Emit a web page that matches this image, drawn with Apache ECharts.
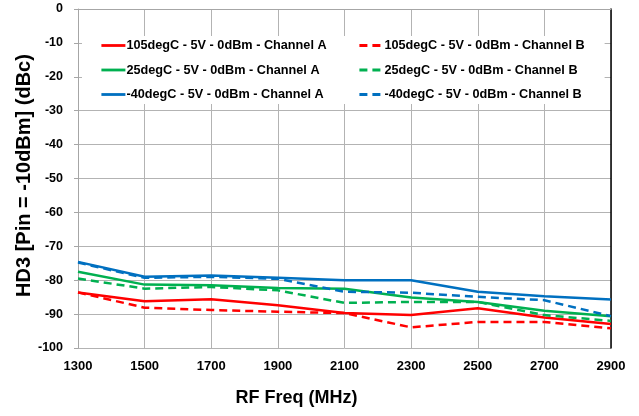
<!DOCTYPE html>
<html>
<head>
<meta charset="utf-8">
<title>HD3 vs RF Freq</title>
<script src="https://cdn.jsdelivr.net/npm/echarts@6/dist/echarts.min.js"></script>
<style>
  html, body { margin: 0; padding: 0; background: #fff; }
  #chart { width: 639px; height: 416px; }
</style>
</head>
<body>
<div id="chart"></div>
<script>
// RF frequencies (MHz)
const freqs = ['1300', '1500', '1700', '1900', '2100', '2300', '2500', '2700', '2900'];

// HD3 (dBc) per temperature and channel
const hot105A  = [-83.6, -86.2, -85.6, -87.4, -89.7, -90.3, -88.3, -91.0, -92.9];
const hot105B  = [-83.6, -88.1, -88.8, -89.3, -89.7, -93.9, -92.3, -92.3, -94.2];
const room25A  = [-77.5, -81.3, -81.5, -82.3, -82.5, -85.1, -86.4, -89.0, -90.6];
const room25B  = [-79.5, -82.5, -82.0, -83.0, -86.7, -86.4, -86.4, -90.3, -92.0];
const cold40A  = [-74.6, -79.0, -78.6, -79.3, -80.0, -80.0, -83.4, -84.7, -85.7];
const cold40B  = [-74.8, -79.3, -79.0, -79.6, -83.4, -83.7, -84.9, -85.9, -90.6];

const names = {
  hot105A: '105degC - 5V - 0dBm - Channel A',
  hot105B: '105degC - 5V - 0dBm - Channel B',
  room25A: '25degC - 5V - 0dBm - Channel A',
  room25B: '25degC - 5V - 0dBm - Channel B',
  cold40A: '-40degC - 5V - 0dBm - Channel A',
  cold40B: '-40degC - 5V - 0dBm - Channel B'
};

const RED = '#ff0000', GREEN = '#00b050', BLUE = '#0070c0';
const FONT = 'Liberation Sans';
const DASH = [8, 5];

function line(name, data, color, dashed) {
  return {
    name: name,
    type: 'line',
    data: data,
    symbol: 'none',
    lineStyle: { color: color, width: 2.5, type: dashed ? DASH : 'solid' },
    itemStyle: { color: color }
  };
}

// legend shows only the line stroke, no marker
const legendCommon = {
  orient: 'vertical',
  top: 36,
  itemWidth: 24,
  itemHeight: 14,
  itemGap: 11.5,
  itemStyle: { opacity: 0 },
  lineStyle: { width: 2.8 },
  backgroundColor: '#ffffff',
  textStyle: { fontFamily: FONT, fontWeight: 'bold', fontSize: 12.7, color: '#000', padding: [0, 0, 0, -4] }
};

const chart = echarts.init(document.getElementById('chart'), null, { renderer: 'canvas' });
chart.setOption({
  animation: false,
  backgroundColor: '#ffffff',
  grid: { left: 78, right: 28, top: 9, bottom: 68 },
  legend: [
    Object.assign({}, legendCommon, {
      left: 82,
      padding: [3, 24, 3, 18],
      data: [names.hot105A, names.room25A, names.cold40A]
    }),
    Object.assign({}, legendCommon, {
      left: 343,
      padding: [3, 20, 3, 15],
      data: [names.hot105B, names.room25B, names.cold40B]
    })
  ],
  xAxis: {
    type: 'category',
    data: freqs,
    boundaryGap: false,
    name: 'RF Freq (MHz)',
    nameLocation: 'middle',
    nameGap: 41,
    nameMoveOverlap: false,
    nameTextStyle: { fontFamily: FONT, fontWeight: 'bold', fontSize: 18, color: '#000', padding: [0, 96, 0, 0] },
    axisLine: { lineStyle: { color: '#a6a6a6', width: 1 } },
    axisTick: { show: false },
    axisLabel: { margin: 12, fontFamily: FONT, fontWeight: 'bold', fontSize: 13, color: '#000' },
    splitLine: { show: true, lineStyle: { color: '#b3b3b3', width: 1 } }
  },
  yAxis: [
    {
      type: 'value',
      min: -100,
      max: 0,
      interval: 10,
      name: 'HD3 [Pin = -10dBm] (dBc)',
      nameLocation: 'middle',
      nameGap: 44,
      nameMoveOverlap: false,
      nameTextStyle: { fontFamily: FONT, fontWeight: 'bold', fontSize: 20, color: '#000', padding: [0, 0, 0, 6] },
      axisLine: { show: true, lineStyle: { color: '#a6a6a6', width: 1 } },
      axisTick: { show: true, length: 4, lineStyle: { color: '#a6a6a6' } },
      axisLabel: { margin: 15, fontFamily: FONT, fontWeight: 'bold', fontSize: 12.5, color: '#000' },
      splitLine: { show: true, lineStyle: { color: '#b3b3b3', width: 1 } }
    },
    {
      type: 'value',
      position: 'right',
      min: -100,
      max: 0,
      interval: 10,
      axisLine: { show: true, lineStyle: { color: '#000', width: 1.5 } },
      axisTick: { show: false },
      axisLabel: { show: false },
      splitLine: { show: false }
    }
  ],
  series: [
    line(names.hot105A, hot105A, RED, false),
    line(names.hot105B, hot105B, RED, true),
    line(names.room25A, room25A, GREEN, false),
    line(names.room25B, room25B, GREEN, true),
    line(names.cold40A, cold40A, BLUE, false),
    line(names.cold40B, cold40B, BLUE, true)
  ]
});
</script>
</body>
</html>
